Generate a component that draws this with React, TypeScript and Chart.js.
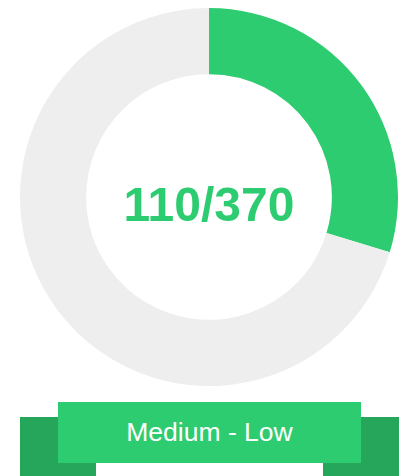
import React, { useEffect, useRef } from "react";
import { Chart, registerables } from "chart.js";

Chart.register(...registerables);

const categories = ["Score", "Remaining"];
const scoreValue = 110;
const maxValue = 370;
const seriesValues = [scoreValue, maxValue - scoreValue];
const centerLabel = `${scoreValue}/${maxValue}`;
const ribbonLabel = "Medium - Low";

const GREEN = "#2ecc71";
const GREY = "#eeeeee";
const DARK_GREEN = "#26a65b";

const centerTextPlugin = {
  id: "centerText",
  afterDraw(chart: any) {
    const meta = chart.getDatasetMeta(0);
    const arc = meta.data[0];
    if (!arc) return;
    const { x, y } = arc;
    const ctx = chart.ctx;
    ctx.save();
    ctx.font = "bold 48px 'Liberation Sans', Arial, sans-serif";
    ctx.fillStyle = GREEN;
    ctx.textAlign = "center";
    ctx.textBaseline = "alphabetic";
    ctx.fillText(centerLabel, x, y + 24);
    ctx.restore();
  },
};

export default function App() {
  const ref = useRef<HTMLCanvasElement | null>(null);

  useEffect(() => {
    if (!ref.current) return;
    const chart = new Chart(ref.current, {
      type: "doughnut",
      data: {
        labels: categories,
        datasets: [
          {
            data: seriesValues,
            backgroundColor: [GREEN, GREY],
            borderColor: "#ffffff",
            borderWidth: 0,
            hoverOffset: 0,
          },
        ],
      },
      options: {
        responsive: false,
        animation: false,
        cutout: "65%",
        layout: { padding: 0 },
        plugins: {
          legend: { display: false },
          tooltip: { enabled: false },
        },
      },
      plugins: [centerTextPlugin],
    });
    return () => chart.destroy();
  }, []);

  return (
    <div
      style={{
        position: "absolute",
        left: 0,
        top: 0,
        width: 409,
        height: 476,
        overflow: "hidden",
        background: "#fff",
      }}
    >
      <div style={{ position: "absolute", left: 20, top: 8, width: 378, height: 378 }}>
        <canvas ref={ref} width={378} height={378} />
      </div>
      <div
        style={{
          position: "absolute",
          left: 20,
          top: 417,
          width: 76,
          height: 70,
          background: DARK_GREEN,
        }}
      />
      <div
        style={{
          position: "absolute",
          left: 323,
          top: 417,
          width: 76,
          height: 70,
          background: DARK_GREEN,
        }}
      />
      <div
        style={{
          position: "absolute",
          left: 58,
          top: 402,
          width: 303,
          height: 61,
          background: GREEN,
          color: "#ffffff",
          fontFamily: "'Liberation Sans', Arial, sans-serif",
          fontSize: 26.5,
          lineHeight: "61px",
          textAlign: "center",
        }}
      >
        {ribbonLabel}
      </div>
    </div>
  );
}
